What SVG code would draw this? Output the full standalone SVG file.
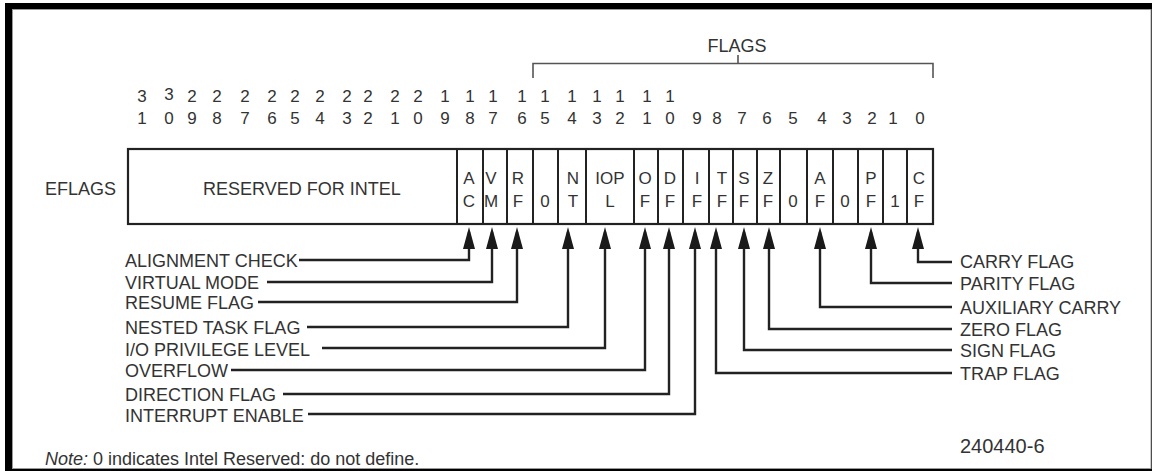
<svg xmlns="http://www.w3.org/2000/svg" width="1152" height="471" viewBox="0 0 1152 471">
<style>
text{font-family:"Liberation Sans",Arial,sans-serif;fill:#333}
.lbl{font-size:18px}
.bit{font-size:17px;text-anchor:middle}
.cell{font-size:17px;text-anchor:middle}
.box{fill:#fff;stroke:#222;stroke-width:2.2}
.div{stroke:#222;stroke-width:2}
.con{fill:none;stroke:#222;stroke-width:2.4;marker-end:url(#ah)}
.brk{fill:none;stroke:#555;stroke-width:1.6}
</style>
<defs>
<marker id="ah" viewBox="0 0 22 12" refX="17" refY="6" markerWidth="22" markerHeight="12" markerUnits="userSpaceOnUse" orient="auto">
<path d="M0,0 L22,6 L0,12 z" fill="#1a1a1a"/>
</marker>
</defs>
<rect x="0" y="0" width="1152" height="471" fill="#fff"/>
<rect x="5" y="3" width="1147" height="468" fill="#000"/>
<rect x="12.5" y="9.5" width="1138.5" height="459" fill="#fff" stroke="#999" stroke-width="1"/>

<g id="flags-bracket">
<path class="brk" d="M533,78 V63.5 H933 V78 M738,63.5 V55"/>
<text class="lbl" x="737" y="52" text-anchor="middle">FLAGS</text>
</g>

<g id="bit-numbers">
<text class="bit" x="142" y="102">3</text><text class="bit" x="169" y="100">3</text>
<text class="bit" x="192" y="102">2</text><text class="bit" x="217" y="102">2</text>
<text class="bit" x="245" y="102">2</text><text class="bit" x="272" y="102">2</text>
<text class="bit" x="295" y="102">2</text><text class="bit" x="320" y="102">2</text>
<text class="bit" x="347" y="102">2</text><text class="bit" x="368" y="102">2</text>
<text class="bit" x="395" y="102">2</text><text class="bit" x="418" y="102">2</text>
<text class="bit" x="445" y="102">1</text><text class="bit" x="470" y="102">1</text>
<text class="bit" x="493" y="102">1</text><text class="bit" x="522" y="102">1</text>
<text class="bit" x="545" y="102">1</text><text class="bit" x="572" y="102">1</text>
<text class="bit" x="597" y="102">1</text><text class="bit" x="620" y="102">1</text>
<text class="bit" x="647" y="102">1</text><text class="bit" x="670" y="102">1</text>
<text class="bit" x="142" y="124">1</text><text class="bit" x="169" y="124">0</text>
<text class="bit" x="192" y="124">9</text><text class="bit" x="217" y="124">8</text>
<text class="bit" x="245" y="124">7</text><text class="bit" x="272" y="124">6</text>
<text class="bit" x="295" y="124">5</text><text class="bit" x="320" y="124">4</text>
<text class="bit" x="347" y="124">3</text><text class="bit" x="368" y="124">2</text>
<text class="bit" x="395" y="124">1</text><text class="bit" x="418" y="124">0</text>
<text class="bit" x="445" y="124">9</text><text class="bit" x="470" y="124">8</text>
<text class="bit" x="493" y="124">7</text><text class="bit" x="522" y="124">6</text>
<text class="bit" x="545" y="124">5</text><text class="bit" x="572" y="124">4</text>
<text class="bit" x="597" y="124">3</text><text class="bit" x="620" y="124">2</text>
<text class="bit" x="647" y="124">1</text><text class="bit" x="670" y="124">0</text>
<text class="bit" x="697" y="124">9</text><text class="bit" x="717" y="124">8</text>
<text class="bit" x="742" y="124">7</text><text class="bit" x="767" y="124">6</text>
<text class="bit" x="793" y="124">5</text><text class="bit" x="822" y="124">4</text>
<text class="bit" x="847" y="124">3</text><text class="bit" x="872" y="124">2</text>
<text class="bit" x="893" y="124">1</text><text class="bit" x="920" y="124">0</text>
</g>

<text class="lbl" x="45" y="195" id="eflags-label">EFLAGS</text>

<g id="register">
<rect class="box" x="128" y="149" width="805" height="75"/>
<path class="div" d="M457,149V224 M483,149V224 M507,149V224 M533,149V224 M558,149V224 M586,149V224 M634,149V224 M658,149V224 M683,149V224 M709,149V224 M733,149V224 M757,149V224 M780,149V224 M807,149V224 M833,149V224 M858,149V224 M883,149V224 M907,149V224"/>
</g>
<g id="reserved"><text class="lbl" x="203" y="194.5">RESERVED FOR INTEL</text></g>
<g id="AC"><text class="cell" x="469" y="184">A</text><text class="cell" x="469" y="207">C</text></g>
<g id="VM"><text class="cell" x="491" y="184">V</text><text class="cell" x="491" y="207">M</text></g>
<g id="RF"><text class="cell" x="518" y="184">R</text><text class="cell" x="518" y="207">F</text></g>
<g id="bit15"><text class="cell" x="545" y="207">0</text></g>
<g id="NT"><text class="cell" x="573" y="184">N</text><text class="cell" x="573" y="207">T</text></g>
<g id="IOPL"><text class="cell" x="610" y="184">IOP</text><text class="cell" x="610" y="207">L</text></g>
<g id="OF"><text class="cell" x="645" y="184">O</text><text class="cell" x="645" y="207">F</text></g>
<g id="DF"><text class="cell" x="670" y="184">D</text><text class="cell" x="670" y="207">F</text></g>
<g id="IF"><text class="cell" x="697" y="184">I</text><text class="cell" x="697" y="207">F</text></g>
<g id="TF"><text class="cell" x="722" y="184">T</text><text class="cell" x="722" y="207">F</text></g>
<g id="SF"><text class="cell" x="744" y="184">S</text><text class="cell" x="744" y="207">F</text></g>
<g id="ZF"><text class="cell" x="768" y="184">Z</text><text class="cell" x="768" y="207">F</text></g>
<g id="bit5"><text class="cell" x="793" y="207">0</text></g>
<g id="AF"><text class="cell" x="820" y="184">A</text><text class="cell" x="820" y="207">F</text></g>
<g id="bit3"><text class="cell" x="845" y="207">0</text></g>
<g id="PF"><text class="cell" x="871" y="184">P</text><text class="cell" x="871" y="207">F</text></g>
<g id="bit1"><text class="cell" x="895" y="207">1</text></g>
<g id="CF"><text class="cell" x="919" y="184">C</text><text class="cell" x="919" y="207">F</text></g>

<g id="labels-left">
<text class="lbl" x="125" y="266.5">ALIGNMENT CHECK</text>
<text class="lbl" x="125" y="288.5">VIRTUAL MODE</text>
<text class="lbl" x="125" y="308.5">RESUME FLAG</text>
<text class="lbl" x="125" y="333.5">NESTED TASK FLAG</text>
<text class="lbl" x="125" y="355.5">I/O PRIVILEGE LEVEL</text>
<text class="lbl" x="125" y="376.5">OVERFLOW</text>
<text class="lbl" x="125" y="400.5">DIRECTION FLAG</text>
<text class="lbl" x="125" y="421.5">INTERRUPT ENABLE</text>
</g>
<g id="labels-right">
<text class="lbl" x="960" y="268">CARRY FLAG</text>
<text class="lbl" x="960" y="289.5">PARITY FLAG</text>
<text class="lbl" x="960" y="314">AUXILIARY CARRY</text>
<text class="lbl" x="960" y="335.5">ZERO FLAG</text>
<text class="lbl" x="960" y="356.5">SIGN FLAG</text>
<text class="lbl" x="960" y="379.5">TRAP FLAG</text>
</g>

<g id="connectors">
<path class="con" d="M299,260 H469 V232"/>
<path class="con" d="M267,282 H492 V232"/>
<path class="con" d="M258,302 H517 V232"/>
<path class="con" d="M307,327 H568 V232"/>
<path class="con" d="M322,348 H605 V232"/>
<path class="con" d="M231,370 H645 V232"/>
<path class="con" d="M283,394 H669 V232"/>
<path class="con" d="M308,414 H695 V232"/>
<path class="con" d="M952,262 H918 V232"/>
<path class="con" d="M952,283 H871 V232"/>
<path class="con" d="M952,307 H820 V232"/>
<path class="con" d="M952,329 H769 V232"/>
<path class="con" d="M952,350 H744 V232"/>
<path class="con" d="M952,373 H716 V232"/>
</g>

<g id="footer">
<text class="lbl" x="45" y="465"><tspan font-style="italic">Note:</tspan> 0 indicates Intel Reserved: do not define.</text>
<text x="960" y="453" font-size="20">240440-6</text>
</g>
</svg>
